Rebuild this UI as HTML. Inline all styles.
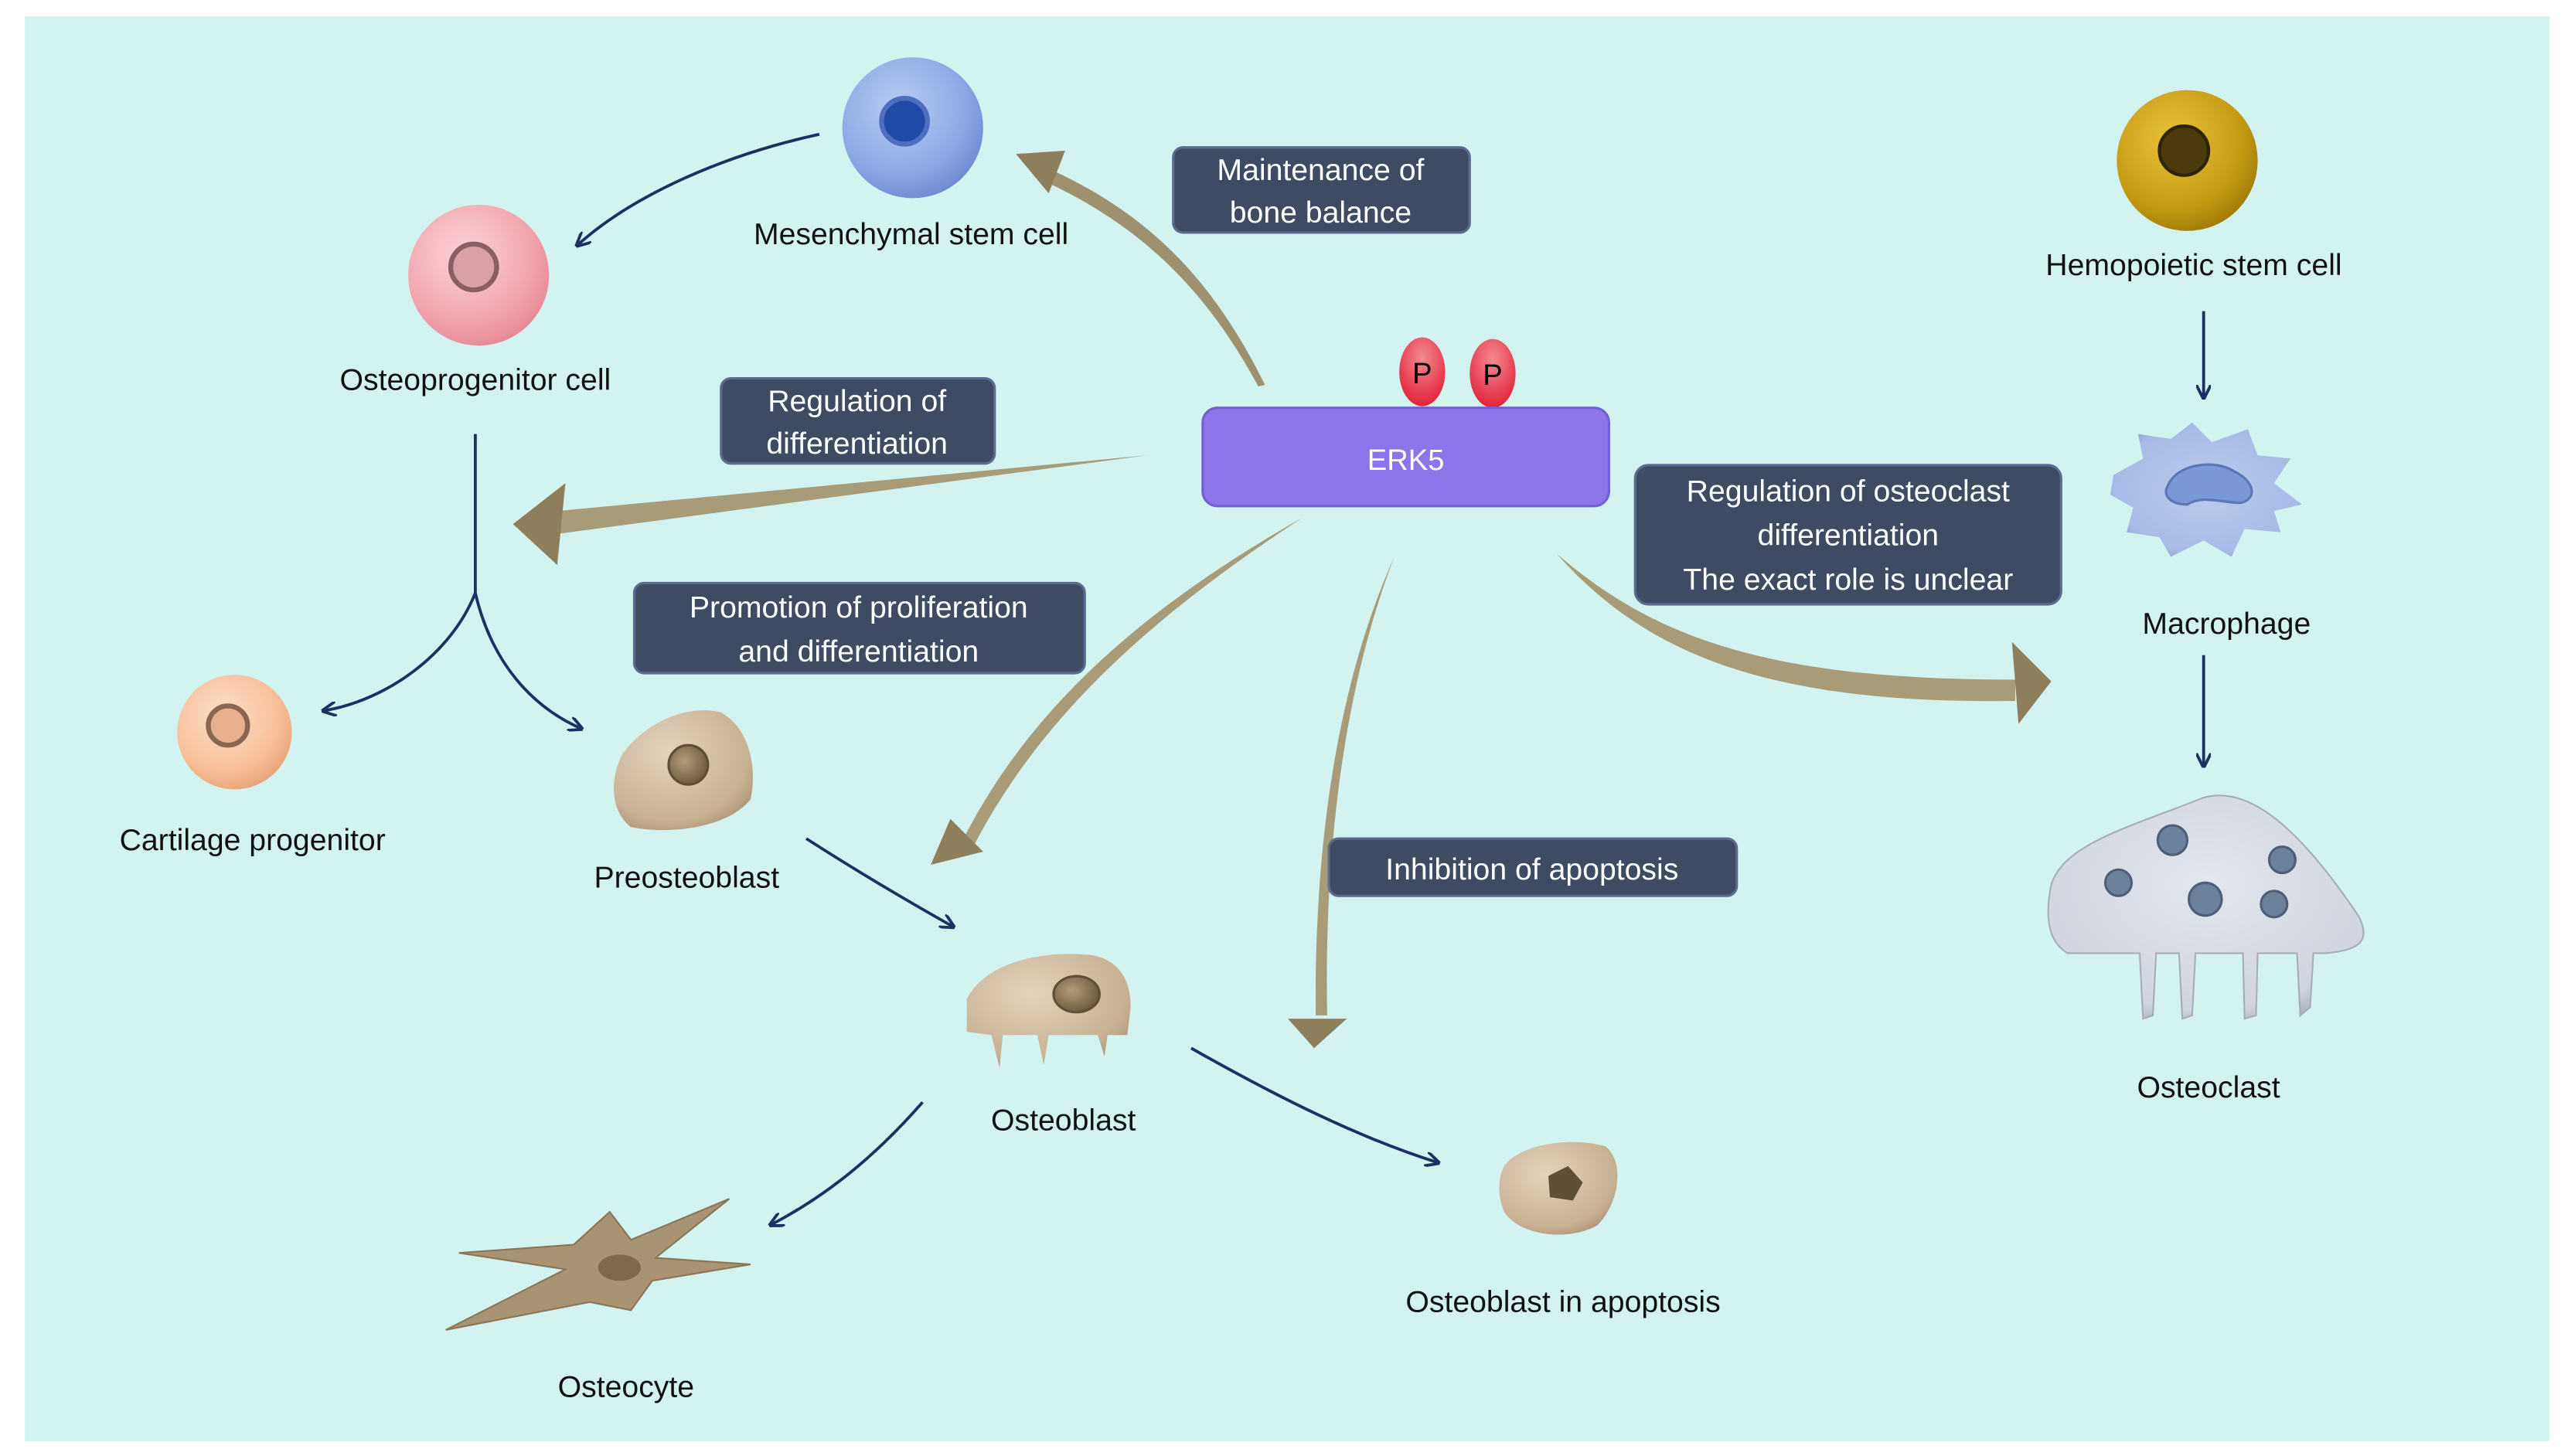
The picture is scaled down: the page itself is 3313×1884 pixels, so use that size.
<!DOCTYPE html>
<html><head><meta charset="utf-8"><style>
html,body{margin:0;padding:0;background:#fff;}
svg{display:block;}
text{font-family:"Liberation Sans","DejaVu Sans",sans-serif;}
</style></head><body>
<svg width="3313" height="1884" viewBox="0 0 1563 889" xmlns="http://www.w3.org/2000/svg">
<defs>
<radialGradient id="gBlue" cx="0.4" cy="0.35" r="0.7"><stop offset="0" stop-color="#b9cdf3"/><stop offset="0.7" stop-color="#8aa6e4"/><stop offset="1" stop-color="#6b88d0"/></radialGradient>
<radialGradient id="gPink" cx="0.4" cy="0.35" r="0.7"><stop offset="0" stop-color="#fbd3d8"/><stop offset="0.7" stop-color="#f2a3ad"/><stop offset="1" stop-color="#e48794"/></radialGradient>
<radialGradient id="gPeach" cx="0.4" cy="0.35" r="0.7"><stop offset="0" stop-color="#fde0c8"/><stop offset="0.7" stop-color="#f7be97"/><stop offset="1" stop-color="#e8a276"/></radialGradient>
<radialGradient id="gGold" cx="0.4" cy="0.35" r="0.7"><stop offset="0" stop-color="#e9c33a"/><stop offset="0.7" stop-color="#c49a12"/><stop offset="1" stop-color="#9c7806"/></radialGradient>
<radialGradient id="gTan" cx="0.4" cy="0.35" r="0.75"><stop offset="0" stop-color="#e2d2bb"/><stop offset="0.75" stop-color="#c9b295"/><stop offset="1" stop-color="#a89070"/></radialGradient>
<radialGradient id="gNucT" cx="0.4" cy="0.4" r="0.6"><stop offset="0" stop-color="#b39d78"/><stop offset="1" stop-color="#6f5d41"/></radialGradient>
<radialGradient id="gRed" cx="0.5" cy="0.3" r="0.7"><stop offset="0" stop-color="#f48a92"/><stop offset="1" stop-color="#e2233a"/></radialGradient>
<radialGradient id="gGrey" cx="0.5" cy="0.4" r="0.7"><stop offset="0" stop-color="#e3e7ee"/><stop offset="0.8" stop-color="#cfd4de"/><stop offset="1" stop-color="#9ca3b0"/></radialGradient>
<radialGradient id="gMac" cx="0.5" cy="0.5" r="0.6"><stop offset="0" stop-color="#bccbee"/><stop offset="0.8" stop-color="#a8bae6"/><stop offset="1" stop-color="#7f92c2"/></radialGradient>
<marker id="nv" viewBox="0 0 10 10" refX="9" refY="5" markerWidth="9" markerHeight="9" orient="auto" markerUnits="userSpaceOnUse"><path d="M0,0 L10,5 L0,10" fill="none" stroke="#1e2f62" stroke-width="2"/></marker>
</defs>
<rect x="15" y="10" width="1541" height="870" fill="#d3f3f1"/>

<g fill="#8e7f5c">
<path d="M772,235 C740,170 700,130 640,103 L636,110 C695,137 735,175 768,236 Z" fill="#9d916f"/>
<polygon points="620,94 650,92 640,118"/>
<path d="M700,278 L340,312 L340,326 Z" fill="#a89b78"/>
<polygon points="313,320 345,295 340,345"/>
<path d="M795,316 C700,370 630,430 588,512 L595,515 C637,435 705,375 795,316 Z" fill="#a89b78"/>
<polygon points="568,528 580,500 600,520"/>
<path d="M851,340 C815,420 802,520 803,620 L810,620 C808,520 820,420 851,340 Z" fill="#a89b78"/>
<polygon points="786,622 822,622 802,640"/>
<path d="M950,338 C1010,390 1080,415 1230,415 L1230,428 C1080,430 1005,400 950,338 Z" fill="#a89b78"/>
<polygon points="1228,392 1252,416 1232,442"/>
</g>

<g fill="none" stroke="#1e2f62" stroke-width="1.8">
<path d="M500,82 C440,95 385,120 352,150" marker-end="url(#nv)"/>
<path d="M290,265 L290,362"/>
<path d="M290,362 C275,400 235,428 197,434" marker-end="url(#nv)"/>
<path d="M290,362 C300,405 325,432 355,445" marker-end="url(#nv)"/>
<path d="M492,512 C520,530 550,548 582,566" marker-end="url(#nv)"/>
<path d="M563,673 C535,705 505,730 470,748" marker-end="url(#nv)"/>
<path d="M727,640 C780,670 830,695 878,710" marker-end="url(#nv)"/>
<path d="M1345,190 L1345,243" marker-end="url(#nv)"/>
<path d="M1345,400 L1345,468" marker-end="url(#nv)"/>
</g>

<circle cx="557" cy="78" r="43" fill="url(#gBlue)"/>
<circle cx="552" cy="74" r="14" fill="#1f4aa6" stroke="#4e6fc0" stroke-width="3"/>
<circle cx="292" cy="168" r="43" fill="url(#gPink)"/>
<circle cx="289" cy="163" r="14" fill="#dba0a6" stroke="#8a5e62" stroke-width="3"/>
<circle cx="143" cy="447" r="35" fill="url(#gPeach)"/>
<circle cx="139" cy="443" r="12" fill="#e8b08c" stroke="#8a6650" stroke-width="3"/>
<circle cx="1335" cy="98" r="43" fill="url(#gGold)"/>
<circle cx="1333" cy="92" r="15" fill="#4a3a0c" stroke="#2e2405" stroke-width="2"/>

<path d="M380,460 C395,440 420,430 440,435 C458,445 462,470 458,488 C445,505 410,510 385,505 C372,495 372,475 380,460 Z" fill="url(#gTan)"/>
<circle cx="420" cy="467" r="12" fill="url(#gNucT)" stroke="#5e4f36" stroke-width="1.5"/>
<path d="M590,610 C600,590 630,580 665,583 C680,585 690,595 690,615 L688,632 L676,632 L674,645 L670,632 L640,632 L637,650 L633,632 L612,632 L610,652 L605,632 L590,630 Z" fill="url(#gTan)"/>
<ellipse cx="657" cy="607" rx="14" ry="11" fill="url(#gNucT)" stroke="#5e4f36" stroke-width="1.5"/>
<path d="M272,812 L345,775 L280,765 L350,760 L372,740 L385,757 L445,732 L400,768 L458,772 L398,782 L385,800 L360,795 Z" fill="#a89373" stroke="#8a7655" stroke-width="1"/>
<ellipse cx="378" cy="774" rx="13" ry="8" fill="#7c6a4b"/>
<path d="M918,712 C928,698 960,694 980,700 C992,710 988,735 975,748 C958,758 928,755 918,740 C914,730 914,720 918,712 Z" fill="url(#gTan)"/>
<path d="M945,718 L957,712 L966,722 L960,733 L946,731 Z" fill="#5e4f36"/>
<path d="M1290,290 L1308,280 L1305,265 L1325,268 L1338,258 L1350,270 L1372,262 L1378,278 L1398,280 L1388,295 L1405,308 L1388,312 L1392,325 L1370,323 L1362,340 L1345,330 L1325,340 L1318,328 L1298,325 L1302,310 L1288,302 Z" fill="url(#gMac)"/>
<path d="M1323,297 C1328,283 1352,280 1364,288 C1376,294 1378,304 1368,307 C1355,307 1345,302 1335,308 C1324,308 1320,302 1323,297 Z" fill="#7a98d6" stroke="#5c78b4" stroke-width="1.5"/>
<path d="M1252,540 C1260,515 1300,505 1345,487 C1370,480 1400,500 1440,560 C1447,575 1440,580 1420,582 L1412,582 L1410,615 L1404,620 L1402,582 L1378,582 L1377,620 L1370,622 L1369,582 L1340,582 L1338,620 L1332,622 L1330,582 L1316,582 L1314,620 L1308,622 L1306,582 L1262,582 C1250,575 1248,560 1252,540 Z" fill="url(#gGrey)" stroke="#a7adb8" stroke-width="1"/>
<g fill="#6e819c" stroke="#4f5f78" stroke-width="1.5">
<circle cx="1326" cy="513" r="9"/><circle cx="1293" cy="539" r="8"/><circle cx="1346" cy="549" r="10"/><circle cx="1393" cy="525" r="8"/><circle cx="1388" cy="552" r="8"/>
</g>

<ellipse cx="868" cy="227" rx="14" ry="21" fill="url(#gRed)"/>
<ellipse cx="911" cy="228" rx="14" ry="21" fill="url(#gRed)"/>
<text x="868" y="234" font-size="18" text-anchor="middle" fill="#000">P</text>
<text x="911" y="235" font-size="18" text-anchor="middle" fill="#000">P</text>
<rect x="734" y="249" width="248" height="60" rx="9" fill="#8e74ea" stroke="#6f62cf" stroke-width="1.5"/>
<text x="858" y="287" font-size="18" text-anchor="middle" fill="#fff">ERK5</text>

<g fill="#3e4b62" stroke="#5d6b8e" stroke-width="1.5">
<rect x="716" y="90" width="181" height="52" rx="6"/>
<rect x="440" y="231" width="167" height="52" rx="6"/>
<rect x="387" y="356" width="275" height="55" rx="6"/>
<rect x="998" y="284" width="260" height="85" rx="8"/>
<rect x="811" y="512" width="249" height="35" rx="6"/>
</g>
<g fill="#fff" font-size="18.5" text-anchor="middle">
<text x="806" y="110">Maintenance of</text><text x="806" y="136">bone balance</text>
<text x="523" y="251">Regulation of</text><text x="523" y="277">differentiation</text>
<text x="524" y="377">Promotion of proliferation</text><text x="524" y="404">and differentiation</text>
<text x="1128" y="306">Regulation of osteoclast</text><text x="1128" y="333">differentiation</text><text x="1128" y="360">The exact role is unclear</text>
<text x="935" y="537">Inhibition of apoptosis</text>
</g>

<g fill="#111" font-size="18.5" text-anchor="middle">
<text x="556" y="149">Mesenchymal stem cell</text>
<text x="290" y="238">Osteoprogenitor cell</text>
<text x="154" y="519">Cartilage progenitor</text>
<text x="419" y="542">Preosteoblast</text>
<text x="649" y="690">Osteoblast</text>
<text x="382" y="853">Osteocyte</text>
<text x="954" y="801">Osteoblast in apoptosis</text>
<text x="1339" y="168">Hemopoietic stem cell</text>
<text x="1359" y="387">Macrophage</text>
<text x="1348" y="670">Osteoclast</text>
</g>
</svg>
</body></html>
